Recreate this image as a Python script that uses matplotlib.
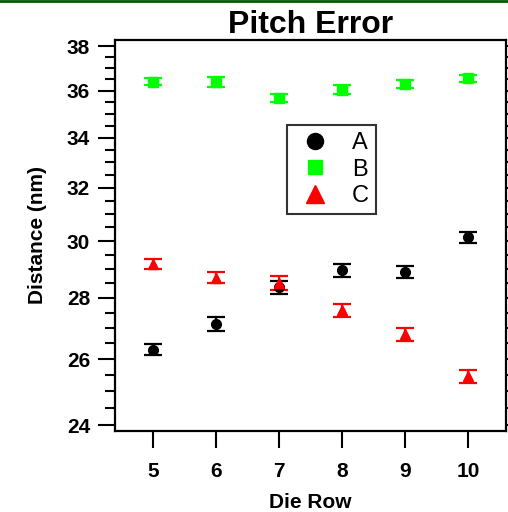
import matplotlib
matplotlib.use('Agg')
import matplotlib.pyplot as plt
from matplotlib.lines import Line2D
from matplotlib.ticker import MultipleLocator, FormatStrFormatter

plt.rcParams['font.family'] = ['Liberation Sans', 'DejaVu Sans']

die_row = [5, 6, 7, 8, 9, 10]

a_vals = [26.30, 27.13, 28.36, 28.95, 28.90, 30.13]
a_err = [0.18, 0.22, 0.23, 0.22, 0.22, 0.19]

b_vals = [36.39, 36.40, 35.69, 36.05, 36.29, 36.54]
b_err = [0.15, 0.22, 0.17, 0.18, 0.17, 0.15]

c_vals = [29.17, 28.70, 28.50, 27.58, 26.79, 25.46]
c_err = [0.17, 0.20, 0.24, 0.23, 0.21, 0.20]

series = [
    ('A', a_vals, a_err, 'o', 'black', 7),
    ('B', b_vals, b_err, 's', '#00ff00', 6.5),
    ('C', c_vals, c_err, '^', 'red', 7.5),
]

fig = plt.figure(figsize=(5.08, 5.12), dpi=100)
ax = fig.add_axes([0.2264, 0.1582, 0.7696, 0.7637])

handles = []
for name, vals, err, mk, col, ms in series:
    ax.errorbar(die_row, vals, yerr=err, fmt=mk, color=col, ms=ms,
                capsize=6.5, capthick=1.6, elinewidth=1.6)
    handles.append(Line2D([], [], ls='none', marker=mk, color=col,
                          ms=ms * 1.65, label=name))

ax.set_yscale('log')
ax.set_ylim(23.83, 38.28)
ax.set_xlim(4.4, 10.6)

ax.yaxis.set_major_locator(MultipleLocator(2))
ax.yaxis.set_minor_locator(MultipleLocator(0.5))
ax.yaxis.set_major_formatter(FormatStrFormatter('%d'))
ax.yaxis.set_minor_formatter(FormatStrFormatter(''))
ax.set_xticks(die_row)

for s in ax.spines.values():
    s.set_linewidth(1.6)

ax.tick_params(axis='y', which='major', direction='out', length=12, width=1.5,
               pad=6, labelsize=15, right=True)
ax.tick_params(axis='y', which='minor', direction='out', length=7, width=1.5,
               right=True)
ax.tick_params(axis='x', which='major', direction='out', length=12, width=1.5,
               pad=10, labelsize=15)
for lbl in ax.get_xticklabels() + ax.get_yticklabels():
    lbl.set_fontweight('bold')

ax.set_xlabel('Die Row', fontsize=15, fontweight='bold', labelpad=9)
ax.set_ylabel('Distance (nm)', fontsize=15, fontweight='bold', labelpad=14)
ax.set_title('Pitch Error', fontsize=23, fontweight='bold', pad=1)

leg = ax.legend(handles=handles, loc='upper left', bbox_to_anchor=(0.44, 0.783),
                borderaxespad=0, fontsize=17, frameon=True, fancybox=False,
                handletextpad=0.65, handlelength=1.8, labelspacing=0.2,
                borderpad=0.3)
leg.get_frame().set_edgecolor('black')
leg.get_frame().set_linewidth(1.5)

fig.add_artist(Line2D([0, 1], [0.999, 0.999], transform=fig.transFigure,
                      color='#005a00', lw=2))

fig.savefig('out.png', dpi=100)
